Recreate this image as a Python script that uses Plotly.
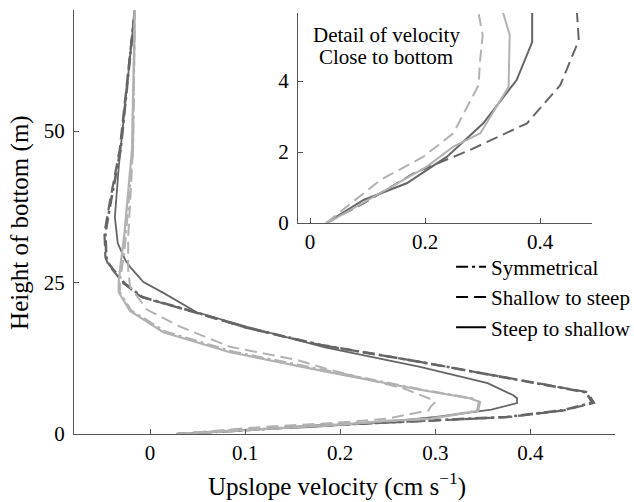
import plotly.graph_objects as go

# ---------------- data (velocity in cm/s, height in m) ----------------
# dark profiles
dark_sym_u = [0.028, 0.093, 0.178, 0.276, 0.375, 0.433, 0.465, 0.462, 0.458, 0.388, 0.284, 0.180, 0.103, 0.050, 0.015, -0.008, -0.027, -0.043, -0.046, -0.047, -0.041, -0.031, -0.016]
dark_sym_z = [0.0, 0.55, 1.4, 2.06, 2.81, 3.89, 5.15, 6.0, 6.9, 8.9, 11.9, 14.7, 17.5, 20.0, 21.6, 22.6, 24.9, 28.0, 29.2, 33.2, 38.6, 46.9, 70.0]
dark_s2s_u = [0.028, 0.093, 0.180, 0.278, 0.377, 0.435, 0.467, 0.464, 0.460, 0.389, 0.284, 0.179, 0.102, 0.049, 0.014, -0.009, -0.028, -0.044, -0.047, -0.048, -0.042, -0.032, -0.016]
dark_s2s_z = [0.0, 0.55, 1.4, 2.06, 2.81, 3.89, 5.15, 5.9, 6.9, 8.9, 11.9, 14.7, 17.5, 20.0, 21.6, 22.6, 24.9, 28.0, 29.2, 33.2, 38.6, 46.9, 70.0]
dark_st2sh_u = [0.028, 0.093, 0.168, 0.238, 0.301, 0.359, 0.386, 0.386, 0.382, 0.355, 0.284, 0.184, 0.102, 0.049, 0.014, -0.007, -0.021, -0.026, -0.034, -0.037, -0.033, -0.016]
dark_st2sh_z = [0.0, 0.65, 1.12, 1.87, 2.81, 4.03, 5.1, 5.9, 6.4, 8.4, 11.1, 14.3, 17.7, 20.1, 23.3, 25.1, 27.6, 28.7, 31.5, 35.8, 44.0, 70.0]

# light profiles
light_sym_u = [0.030, 0.122, 0.203, 0.249, 0.296, 0.344, 0.346, 0.338, 0.286, 0.188, 0.087, 0.016, -0.020, -0.032, -0.032, -0.027, -0.018, -0.016]
light_sym_z = [0.0, 0.84, 1.59, 2.15, 2.53, 3.84, 5.3, 5.9, 7.3, 10.4, 13.6, 16.9, 20.4, 23.4, 25.0, 30.4, 47.0, 70.0]
light_s2s_u = [0.028, 0.122, 0.197, 0.249, 0.293, 0.295, 0.300, 0.293, 0.267, 0.189, 0.155, 0.084, 0.032, -0.003, -0.021, -0.023, -0.023, -0.018, -0.016]
light_s2s_z = [0.0, 1.21, 1.87, 2.53, 3.89, 4.5, 5.3, 5.9, 7.5, 10.6, 12.2, 14.4, 17.7, 20.5, 24.3, 27.0, 32.5, 47.0, 70.0]
light_st2sh_u = [0.030, 0.122, 0.203, 0.249, 0.296, 0.345, 0.347, 0.336, 0.284, 0.185, 0.084, 0.014, -0.021, -0.033, -0.033, -0.031, -0.027, -0.019, -0.016]
light_st2sh_z = [0.0, 0.84, 1.59, 2.15, 2.53, 3.84, 5.3, 5.9, 7.3, 10.3, 13.5, 16.8, 20.3, 23.4, 25.0, 28.0, 33.0, 47.0, 70.0]

legend_names = ["Symmetrical", "Shallow to steep", "Steep to shallow"]

main_xticks = [0, 0.1, 0.2, 0.3, 0.4]
main_xticklabels = ["0", "0.1", "0.2", "0.3", "0.4"]
main_yticks = [0, 25, 50]
inset_xticks = [0, 0.2, 0.4]
inset_xticklabels = ["0", "0.2", "0.4"]
inset_yticks = [0, 2, 4]

DARK = "#666666"
LIGHT = "#b2b2b2"
DASH = "12px,6px"
DASHDOT = "12px,4px,3px,4px"
FONT = "Liberation Serif"

# (u, z, colour, dash, width, shown in inset)
curves = [
    (dark_sym_u, dark_sym_z, DARK, DASHDOT, 2.6, False),
    (dark_s2s_u, dark_s2s_z, DARK, DASH, 2.2, True),
    (dark_st2sh_u, dark_st2sh_z, DARK, "solid", 1.8, True),
    (light_sym_u, light_sym_z, LIGHT, DASHDOT, 2.4, False),
    (light_s2s_u, light_s2s_z, LIGHT, DASH, 2.0, True),
    (light_st2sh_u, light_st2sh_z, LIGHT, "solid", 2.2, True),
]

fig = go.Figure()
for (u, z, col, dash, w, _) in curves:
    fig.add_trace(go.Scatter(x=u, y=z, mode="lines", showlegend=False,
                             line=dict(color=col, dash=dash, width=w),
                             xaxis="x", yaxis="y", hoverinfo="skip"))
for (u, z, col, dash, w, ins) in curves:
    if ins:
        fig.add_trace(go.Scatter(x=u, y=z, mode="lines", showlegend=False,
                                 line=dict(color=col, dash=dash, width=2.0),
                                 xaxis="x2", yaxis="y2", hoverinfo="skip"))

# legend entries (black line styles)
for name, dash in zip(legend_names, [DASHDOT, DASH, "solid"]):
    fig.add_trace(go.Scatter(x=[None], y=[None], mode="lines", name=name,
                             line=dict(color="black", dash=dash, width=2),
                             xaxis="x", yaxis="y"))

axis_common = dict(showline=True, linecolor="#555555", linewidth=1.2,
                   ticks="inside", ticklen=5, tickcolor="#555555",
                   showgrid=False, zeroline=False, mirror=False,
                   tickfont=dict(family=FONT, size=21, color="black"))

fig.update_layout(
    width=634, height=502,
    margin=dict(l=74, r=19, t=10, b=68, autoexpand=False),
    paper_bgcolor="white", plot_bgcolor="white",
    font=dict(family=FONT, size=21, color="black"),
    xaxis=dict(range=[-0.08, 0.489], tickvals=main_xticks, ticktext=main_xticklabels,
               domain=[0, 1], anchor="y", automargin=False, **axis_common),
    yaxis=dict(range=[0, 70], tickvals=main_yticks, domain=[0, 1], anchor="x",
               automargin=False, ticklabelstandoff=4, **axis_common),
    xaxis2=dict(range=[-0.021, 0.49], tickvals=inset_xticks, ticktext=inset_xticklabels,
                domain=[0.414, 0.9575], anchor="y2", automargin=False, **axis_common),
    yaxis2=dict(range=[0, 5.92], tickvals=inset_yticks, domain=[0.4976, 0.993],
                anchor="x2", automargin=False, ticklabelstandoff=4, **axis_common),
    legend=dict(x=0.697, y=0.442, xanchor="left", yanchor="top",
                bgcolor="rgba(255,255,255,0)", font=dict(family=FONT, size=21),
                tracegroupgap=0, itemwidth=30),
    showlegend=True,
    annotations=[
        dict(text="Upslope velocity (cm s<sup>−1</sup>)", xref="paper", yref="paper",
             x=0.486, y=-0.12, xanchor="center", yanchor="middle", showarrow=False,
             font=dict(family=FONT, size=25)),
        dict(text="Height of bottom (m)", xref="paper", yref="paper",
             x=-0.10, y=0.5, xanchor="center", yanchor="middle", textangle=-90,
             showarrow=False, font=dict(family=FONT, size=25)),
        dict(text="Detail of velocity", xref="x2", yref="y2", x=0.132, y=5.3,
             xanchor="center", yanchor="middle", showarrow=False,
             font=dict(family=FONT, size=21)),
        dict(text="Close to bottom", xref="x2", yref="y2", x=0.132, y=4.68,
             xanchor="center", yanchor="middle", showarrow=False,
             font=dict(family=FONT, size=21)),
    ],
)

fig.write_html("out.html")
